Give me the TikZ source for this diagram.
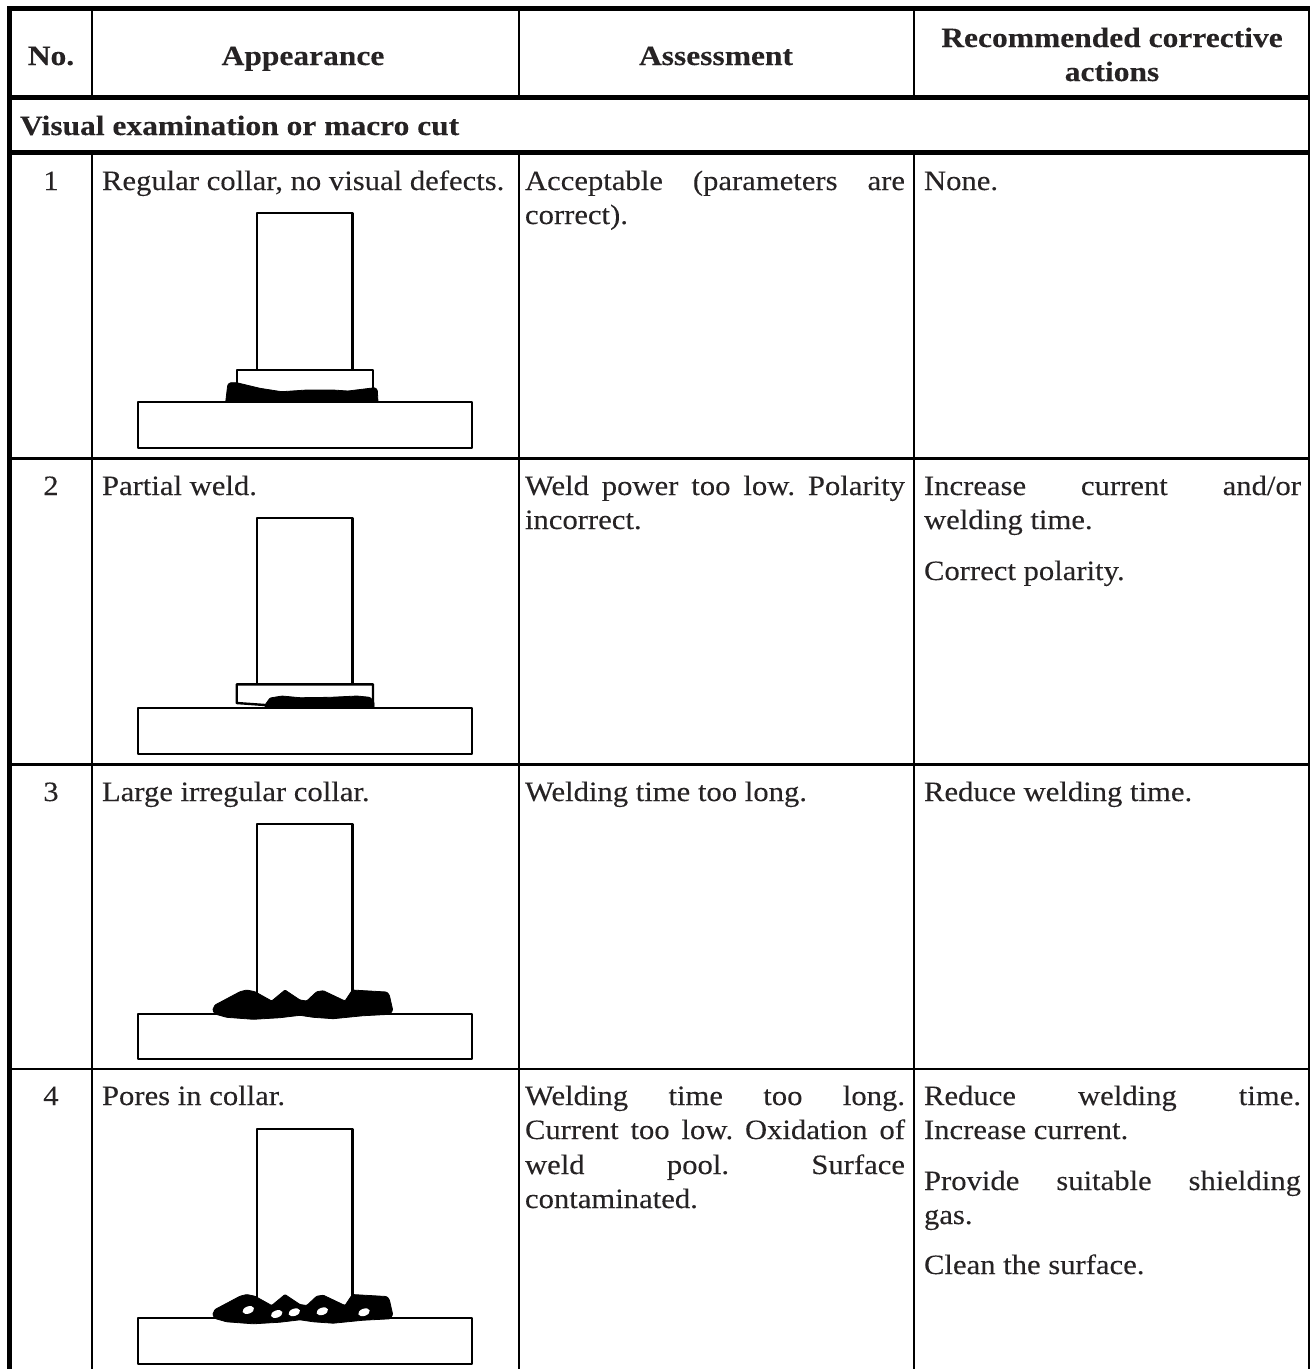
\documentclass[tikz,border=0pt]{standalone}
\usepackage{fontspec}
\setmainfont[FakeStretch=1.095,FakeBold=0.12,BoldFeatures={FakeStretch=1.125}]{Liberation Serif}
\frenchspacing
\definecolor{ink}{HTML}{262324}
\tikzset{
  x=1pt,y=-1pt,
  thick rule/.style={line width=4.6pt,black},
  thin rule/.style={line width=2.2pt,black},
  outline/.style={line width=2.4pt,black,line join=round},
  blob/.style={fill=black,draw=black,line width=.8pt,line join=round,rounded corners=1pt},
  body/.style={anchor=base west,inner sep=0pt,outer sep=0pt,text=ink,font=\fontsize{28}{34}\selectfont},
  mid/.style={anchor=base,inner sep=0pt,outer sep=0pt,text=ink,font=\fontsize{28}{34}\selectfont},
  head/.style={anchor=base,inner sep=0pt,outer sep=0pt,text=ink,font=\fontsize{28}{34}\selectfont\bfseries},
  headl/.style={anchor=base west,inner sep=0pt,outer sep=0pt,text=ink,font=\fontsize{28}{34}\selectfont\bfseries},
}
\newcommand{\jbox}[2]{\makebox[#1pt][s]{#2}}
\begin{document}
\begin{tikzpicture}
\useasboundingbox (0,0) rectangle (1310,1369);
\fill[white] (0,0) rectangle (1310,1369);
% thin rules
\foreach \xx in {91.7,519,913.7}{
  \draw[thin rule] (\xx,8) -- (\xx,97);
  \draw[thin rule] (\xx,152) -- (\xx,1369);
}
\draw[thin rule] (8,458.5) -- (1310,458.5);
\draw[thin rule] (8,764.5) -- (1310,764.5);
\draw[thin rule] (8,1069) -- (1310,1069);
% thick rules
\draw[thick rule] (9.5,1369) -- (9.5,8.4) -- (1310.5,8.4) -- (1310.5,1369);
\draw[thick rule] (8,97.2) -- (1310,97.2);
\draw[thick rule] (8,152.2) -- (1310,152.2);
% header
\node[head] (hno) at (51,65) {No.};
\node[head] (happ) at (303,65) {Appearance};
\node[head] (hass) at (716,65) {Assessment};
\node[head] (hrec1) at (1112,47) {Recommended corrective};
\node[head] (hrec2) at (1112,81) {actions};
\node[headl] (hvis) at (20,135) {Visual examination or macro cut};
% row numbers
\node[mid] (n1) at (51,190) {1};
\node[mid] (n2) at (51,495) {2};
\node[mid] (n3) at (51,801) {3};
\node[mid] (n4) at (51,1105) {4};
% appearance
\node[body] (a1) at (102,190) {Regular collar, no visual defects.};
\node[body] (a2) at (102,495) {Partial weld.};
\node[body] (a3) at (102,801) {Large irregular collar.};
\node[body] (a4) at (102,1105) {Pores in collar.};
% assessment
\node[body] (b1a) at (525,190) {\jbox{380}{Acceptable (parameters are}};
\node[body] (b1b) at (525,224) {correct).};
\node[body] (b2a) at (525,495) {\jbox{380}{Weld power too low. Polarity}};
\node[body] (b2b) at (525,529) {incorrect.};
\node[body] (b3a) at (525,801) {Welding time too long.};
\node[body] (b4a) at (525,1105) {\jbox{380}{Welding time too long.}};
\node[body] (b4b) at (525,1139) {\jbox{380}{Current too low. Oxidation of}};
\node[body] (b4c) at (525,1174) {\jbox{380}{weld pool. Surface}};
\node[body] (b4d) at (525,1208) {contaminated.};
% actions
\node[body] (c1a) at (924,190) {None.};
\node[body] (c2a) at (924,495) {\jbox{377}{Increase current and/or}};
\node[body] (c2b) at (924,529) {welding time.};
\node[body] (c2c) at (924,580) {Correct polarity.};
\node[body] (c3a) at (924,801) {Reduce welding time.};
\node[body] (c4a) at (924,1105) {\jbox{377}{Reduce welding time.}};
\node[body] (c4b) at (924,1139) {Increase current.};
\node[body] (c4c) at (924,1190) {\jbox{377}{Provide suitable shielding}};
\node[body] (c4d) at (924,1224) {gas.};
\node[body] (c4e) at (924,1274) {Clean the surface.};
% row 1 sketch
\draw[outline] (137.7,402) rectangle (472,448);
\draw[outline] (257,370) -- (257,212.7) -- (352.3,212.7) -- (352.3,370);
\draw[outline] (236.7,390) -- (236.7,370) -- (373,370) -- (373,390);
\fill[blob] (225.7,402) -- (227.7,385) -- (230,382.7) -- (236.7,382.7) -- (260,388.3) -- (281.7,391.7) -- (306.7,390) -- (333,390) -- (348,391) -- (366.7,388.7) -- (375,387.7) -- (377.3,390) -- (378,402) -- cycle;
% row 2 sketch
\draw[outline] (137.7,707.7) rectangle (472,753.7);
\draw[outline] (257,684) -- (257,518) -- (352.3,518) -- (352.3,684);
\draw[outline] (265,705) -- (236.7,703) -- (236.7,684.3) -- (373,684.3) -- (373,707);
\fill[blob] (265,707.7) -- (265,705) -- (270,698) -- (282,696) -- (300,697.7) -- (330,697.3) -- (357,696) -- (370,697.3) -- (374,702) -- (374,707.7) -- cycle;
% row 3 sketch
\draw[outline] (137.7,1014) rectangle (472,1059);
\draw[outline] (257,995) -- (257,824) -- (352.3,824) -- (352.3,995);
\newcommand{\tallblob}[1]{%
  \fill[blob,shift={(0,#1)}] (212.7,1010) -- (215,1005) -- (240,991.7) -- (246.7,990) -- (255,991.7) -- (271.7,1001) -- (285,990) -- (300,1000) -- (306.7,1001) -- (316.7,991.7) -- (323.3,990.7) -- (345,1001) -- (352.3,990) -- (386.7,992) -- (389.3,995) -- (392.7,1010) -- (390,1014.3) -- (363.3,1015.7) -- (333.3,1018.7) -- (313.3,1017.3) -- (300,1015.3) -- (280,1017.7) -- (253.3,1019.3) -- (226.7,1017.3) -- (215,1014) -- cycle;}
\tallblob{0}
% row 4 sketch
\draw[outline] (137.7,1318) rectangle (472,1364);
\draw[outline] (257,1299) -- (257,1129) -- (352.3,1129) -- (352.3,1299);
\tallblob{304.5}
\foreach \hx/\hy in {248.3/1310,276.7/1314,294.3/1312.3,322.3/1311.3,364/1312.3}{
  \fill[white] (\hx,\hy) ellipse [x radius=6pt,y radius=3.6pt,rotate=20];
}
\end{tikzpicture}
\end{document}
